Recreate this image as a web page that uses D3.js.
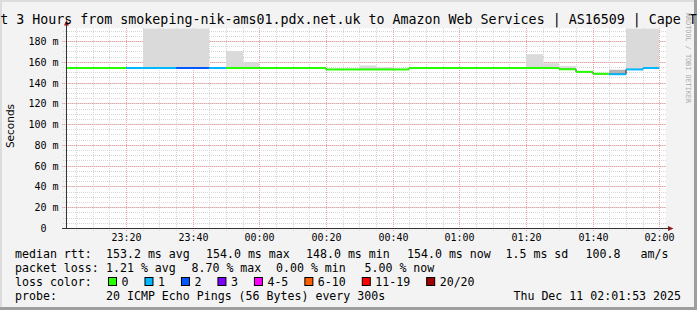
<!DOCTYPE html>
<meta charset="utf-8">
<style>
    body { margin: 0; background: #f3f3f3; }
    svg { display: block; }
    text { font-family: "DejaVu Sans Mono", monospace; fill: #000; }
    .grid-minor { stroke: #d6d6d6; stroke-dasharray: 1,1; shape-rendering: crispEdges; }
    .grid-major { stroke: #f2a2a2; stroke-dasharray: 1,1; shape-rendering: crispEdges; }
</style>
<svg width="697" height="310"></svg>
<script src="https://d3js.org/d3.v7.min.js"></script>
<script>
    // 5 minute steps (start of each interval)
    var stepTimes = ['23:00', '23:05', '23:10', '23:15', '23:20', '23:25', '23:30', '23:35', '23:40', '23:45', '23:50', '23:55',
        '00:00', '00:05', '00:10', '00:15', '00:20', '00:25', '00:30', '00:35', '00:40', '00:45', '00:50', '00:55',
        '01:00', '01:05', '01:10', '01:15', '01:20', '01:25', '01:30', '01:35', '01:40', '01:45', '01:50', '01:55'];
    // median rtt in ms
    var median = [154.0, 154.0, 154.0, 154.0, 154.0, 154.0, 154.0, 154.0, 154.0, 154.0, 154.0, 154.0,
        154.0, 154.0, 154.0, 154.0, 152.6, 152.6, 152.6, 152.6, 152.6, 154.0, 154.0, 154.0,
        154.0, 154.0, 154.0, 154.0, 154.0, 154.0, 152.8, 150.3, 148.4, 148.0, 152.6, 154.0];
    // lost pings out of 20
    var loss = [0, 0, 0, 0, 1, 1, 1, 2, 2, 1, 0, 0,
        0, 0, 0, 0, 0, 0, 0, 0, 0, 0, 0, 0,
        0, 0, 0, 0, 0, 0, 0, 0, 0, 1, 1, 1];
    // upper edge of the smoke (ms), null where none shows
    var smokeTop = [null, null, null, null, null, 192, 192, 192, 192, null, 170.2, 159.6,
        null, null, null, null, null, null, 156.4, 154.8, null, null, null, null,
        null, null, null, null, 167.3, 158.6, 155.7, null, null, null, 192, 192];
    var smokeDark = [null, null, null, null, null, null, null, null, null, null, null, null,
        null, null, null, null, null, null, null, null, null, null, null, null,
        null, null, null, null, null, null, null, null, null, 152.3, null, null];

    var yTicks = [0, 20, 40, 60, 80, 100, 120, 140, 160, 180];
    var yTickLabels = ['0  ', '20 m', '40 m', '60 m', '80 m', '100 m', '120 m', '140 m', '160 m', '180 m'];

    var lossLabels = ['0', '1', '2', '3', '4-5', '6-10', '11-19', '20/20'];
    var lossColors = ['#26ff00', '#00b8ff', '#0059ff', '#7e00ff', '#ff00ff', '#ff5e00', '#ff0000', '#a10000'];

    var title = 'Last 3 Hours from smokeping-nik-ams01.pdx.net.uk to Amazon Web Services | AS16509 | Cape Town';
    var rttLegend = ['median rtt:', '153.2 ms avg', '154.0 ms max', '148.0 ms min', '154.0 ms now', '1.5 ms sd', '100.8', 'am/s'];
    var lossLegend = ['packet loss:', '1.21 % avg', '8.70 % max', '0.00 % min', '5.00 % now'];
    var probeLegend = ['probe:', '20 ICMP Echo Pings (56 Bytes) every 300s'];
    var stamp = 'Thu Dec 11 02:01:53 2025';

    var svg = d3.select('svg'),
        W = +svg.attr('width'), H = +svg.attr('height');

    var start = new Date(2025, 11, 10, 23, 1, 53),
        end = new Date(2025, 11, 11, 2, 1, 53);

    function toDate(s) {
        var p = s.split(':'), h = +p[0];
        return new Date(2025, 11, h >= 12 ? 10 : 11, h, +p[1]);
    }
    var steps = stepTimes.map(function (s, i) {
        var t0 = toDate(s);
        return { t0: t0, t1: new Date(+t0 + 300000), v: median[i], loss: loss[i], top: smokeTop[i], dark: smokeDark[i] };
    });

    var x = d3.scaleTime().domain([start, end]).range([66, 666]),
        y = d3.scaleLinear().domain([0, 192.5]).range([228, 28]);
    function px(d) { return Math.max(66, Math.floor(x(d))); }

    function lossBucket(n) {
        if (n <= 3) return n;
        if (n <= 5) return 4;
        if (n <= 10) return 5;
        if (n <= 19) return 6;
        return 7;
    }

    // frame
    svg.append('rect').attr('width', W).attr('height', H).attr('fill', '#f3f3f3');
    svg.append('path').attr('d', 'M0,0H' + W + 'V2H2V' + H + 'H0Z').attr('fill', '#dcdcdc');
    svg.append('path').attr('d', 'M' + W + ',0V' + H + 'H0V' + (H - 3) + 'H' + (W - 3) + 'V0Z').attr('fill', '#9e9e9e');

    // canvas
    svg.append('rect').attr('x', 66).attr('y', 28).attr('width', 600).attr('height', 200).attr('fill', '#fff');

    var g = svg.append('g');

    // grid
    var minorX = d3.timeMinute.every(5).range(start, end),
        majorX = d3.timeMinute.every(20).range(start, end);
    g.selectAll('.vminor').data(minorX).enter().append('line')
        .attr('class', 'grid-minor')
        .attr('x1', d => px(d) + 0.5).attr('x2', d => px(d) + 0.5)
        .attr('y1', 28).attr('y2', 231);
    g.selectAll('.hminor').data(d3.range(5, 193, 5)).enter().append('line')
        .attr('class', 'grid-minor')
        .attr('y1', d => Math.round(y(d)) + 0.5).attr('y2', d => Math.round(y(d)) + 0.5)
        .attr('x1', 63).attr('x2', 666);
    g.selectAll('.vmajor').data(majorX).enter().append('line')
        .attr('class', 'grid-major')
        .attr('x1', d => px(d) + 0.5).attr('x2', d => px(d) + 0.5)
        .attr('y1', 28).attr('y2', 232);
    g.selectAll('.hmajor').data(yTicks.slice(1)).enter().append('line')
        .attr('class', 'grid-major')
        .attr('y1', d => Math.round(y(d)) + 0.5).attr('y2', d => Math.round(y(d)) + 0.5)
        .attr('x1', 62).attr('x2', 666);

    // smoke
    g.selectAll('.smoke').data(steps.filter(d => d.top != null)).enter().append('rect')
        .attr('x', d => px(d.t0)).attr('width', d => px(d.t1) - px(d.t0))
        .attr('y', d => y(d.top)).attr('height', d => y(d.v) - y(d.top))
        .attr('fill', '#dadada');
    g.selectAll('.smokedark').data(steps.filter(d => d.dark != null)).enter().append('rect')
        .attr('x', d => px(d.t0)).attr('width', d => px(d.t1) - px(d.t0))
        .attr('y', d => y(d.dark)).attr('height', d => y(d.v) - y(d.dark))
        .attr('fill', '#b4b4b4');

    // median: dark step line underneath, coloured segments on top
    var stepPts = [];
    steps.forEach(function (d) { stepPts.push([px(d.t0), y(d.v)], [px(d.t1), y(d.v)]); });
    g.append('path')
        .attr('d', d3.line()(stepPts))
        .attr('fill', 'none').attr('stroke', '#202020').attr('stroke-width', 1);
    g.selectAll('.med').data(steps).enter().append('line')
        .attr('x1', d => px(d.t0)).attr('x2', d => px(d.t1))
        .attr('y1', d => y(d.v)).attr('y2', d => y(d.v))
        .attr('stroke', d => lossColors[lossBucket(d.loss)]).attr('stroke-width', 2);

    // axes
    g.append('line').attr('x1', 66.5).attr('x2', 66.5).attr('y1', 228).attr('y2', 24).attr('stroke', '#333');
    g.append('line').attr('x1', 62).attr('x2', 669).attr('y1', 228.5).attr('y2', 228.5).attr('stroke', '#333');
    g.append('path').attr('d', 'M64,25.5L66.5,20L69,25.5Z').attr('fill', '#8c1c1c');
    g.append('path').attr('d', 'M668,226L673.5,228.5L668,231Z').attr('fill', '#8c1c1c');

    // y labels
    g.selectAll('.ylab').data(yTicks).enter().append('text')
        .attr('x', 58.5).attr('y', d => Math.round(y(d)) + 4)
        .attr('text-anchor', 'end').attr('xml:space', 'preserve').style('font-size', '10px')
        .text((d, i) => yTickLabels[i]);
    svg.append('text')
        .attr('transform', 'translate(14,126) rotate(-90)')
        .attr('text-anchor', 'middle')
        .style('font-family', '"DejaVu Sans", sans-serif').style('font-size', '10.5px')
        .text('Seconds');

    // x labels
    g.selectAll('.xlab').data(majorX).enter().append('text')
        .attr('x', d => px(d) + 0.5).attr('y', 241)
        .attr('text-anchor', 'middle').style('font-size', '10px')
        .text(d3.timeFormat('%H:%M'));

    // title
    svg.append('text').attr('x', W / 2).attr('y', 24).attr('text-anchor', 'middle')
        .style('font-size', '13.3px').text(title);

    // watermark
    svg.append('text').attr('transform', 'translate(686,13) rotate(90)')
        .style('font-size', '6.8px').style('fill', '#a8a8a8')
        .text('RRDTOOL / TOBI OETIKER');

    // legend
    var lf = '11.6px', cw = 6.98;
    var rttX = [15, 106, 206, 306, 407, 505.5, 585.5, 640.5];
    var lossX = [15, 106, 191.5, 276, 364.5];
    var leg = svg.append('g').style('font-size', lf);
    function row(items, xs, by) {
        items.forEach(function (t, i) {
            leg.append('text').attr('x', xs[i]).attr('y', by).attr('xml:space', 'preserve').text(t);
        });
    }
    row(rttLegend, rttX, 258);
    row(lossLegend, lossX, 272);
    leg.append('text').attr('x', 15).attr('y', 286).text('loss color:');
    var bx = 108;
    lossLabels.forEach(function (l, i) {
        leg.append('rect').attr('x', bx + 0.5).attr('y', 277.5).attr('width', 8).attr('height', 8)
            .attr('fill', lossColors[i]).attr('stroke', '#000');
        leg.append('text').attr('x', bx + 13.5).attr('y', 286).text(l);
        bx = bx + 13.5 + l.length * cw + 16;
    });
    row(probeLegend, [15, 106], 300);
    leg.append('text').attr('x', 681).attr('y', 300).attr('text-anchor', 'end').text(stamp);
</script>
